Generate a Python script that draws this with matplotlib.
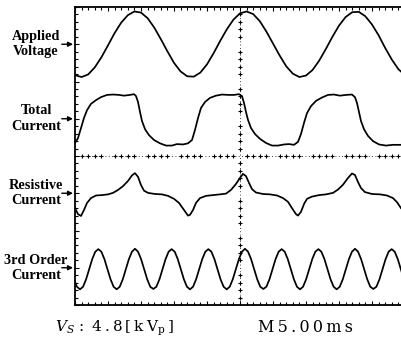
"""Scope capture: applied voltage and current components."""

import matplotlib.pyplot as plt
import numpy as np
from matplotlib.ticker import MultipleLocator

# time in ms (5 ms/div), trace values in divisions relative to the ground marker
volt_t = np.arange(0.0, 51.0, 1.0)
volt = [-0.83, -0.88, -0.81, -0.62, -0.35, -0.03, 0.30, 0.58, 0.78, 0.88,
        0.85, 0.70, 0.45, 0.14, -0.19, -0.50, -0.73, -0.86, -0.87, -0.76,
        -0.54, -0.24, 0.09, 0.40, 0.66, 0.83, 0.88, 0.81, 0.62, 0.34,
        0.02, -0.30, -0.59, -0.79, -0.88, -0.84, -0.69, -0.44, -0.13, 0.20,
        0.50, 0.73, 0.86, 0.87, 0.75, 0.53, 0.24, -0.10, -0.41, -0.67, -0.83]

total_t = [0.0, 0.45, 0.91, 1.36, 1.82, 2.42, 3.18, 3.94, 4.85, 5.76,
           6.67, 7.42, 8.33, 8.94, 9.24, 9.55, 9.85, 10.15, 10.61, 11.21,
           11.97, 12.88, 13.79, 14.70, 15.45, 16.36, 17.12, 17.73, 18.18, 18.64,
           19.09, 19.70, 20.45, 21.36, 22.27, 23.18, 24.09, 24.85, 25.30, 25.61,
           25.91, 26.21, 26.67, 27.27, 28.03, 28.94, 29.85, 30.76, 31.67, 32.42,
           33.18, 33.79, 34.24, 34.70, 35.15, 35.76, 36.52, 37.42, 38.33, 39.24,
           40.15, 41.06, 41.97, 42.42, 42.73, 43.03, 43.33, 43.79, 44.39, 45.15,
           46.06, 47.12, 48.18, 49.39]
total = [-0.65, -0.52, -0.25, 0.02, 0.23, 0.40, 0.50, 0.58, 0.64, 0.65,
         0.64, 0.62, 0.64, 0.66, 0.61, 0.45, 0.18, -0.06, -0.28, -0.44,
         -0.57, -0.66, -0.72, -0.72, -0.68, -0.69, -0.66, -0.57, -0.30, 0.02,
         0.29, 0.45, 0.56, 0.62, 0.65, 0.64, 0.64, 0.66, 0.61, 0.42,
         0.18, -0.03, -0.25, -0.41, -0.54, -0.65, -0.72, -0.72, -0.69, -0.68,
         -0.70, -0.62, -0.41, -0.11, 0.15, 0.34, 0.48, 0.57, 0.64, 0.65,
         0.62, 0.64, 0.65, 0.58, 0.42, 0.18, -0.06, -0.28, -0.46, -0.60,
         -0.69, -0.72, -0.70, -0.70]

resist_t = [0.0, 0.45, 0.91, 1.36, 1.82, 2.42, 3.18, 4.09, 5.0, 5.76,
            6.52, 7.27, 8.03, 8.64, 9.09, 9.55, 10.0, 10.45, 11.06, 12.12,
            13.18, 14.09, 15.0, 15.76, 16.52, 17.12, 17.42, 17.88, 18.33, 18.94,
            19.85, 20.91, 21.97, 22.88, 23.64, 24.39, 25.0, 25.45, 25.91, 26.36,
            26.82, 27.42, 28.48, 29.55, 30.61, 31.52, 32.27, 32.88, 33.48, 33.79,
            34.24, 34.70, 35.15, 35.91, 36.97, 38.03, 39.09, 39.85, 40.61, 41.36,
            41.97, 42.42, 42.88, 43.33, 43.94, 45.0, 46.21, 47.27, 48.18, 48.79,
            49.39]
resist = [-0.40, -0.56, -0.61, -0.45, -0.26, -0.13, -0.06, -0.05, -0.03, 0.01,
          0.09, 0.19, 0.33, 0.48, 0.54, 0.44, 0.22, 0.07, 0.01, -0.02,
          -0.03, -0.07, -0.15, -0.26, -0.45, -0.60, -0.58, -0.45, -0.26, -0.13,
          -0.07, -0.05, -0.03, -0.01, 0.09, 0.25, 0.41, 0.52, 0.46, 0.28,
          0.11, 0.02, -0.02, -0.03, -0.06, -0.13, -0.23, -0.40, -0.56, -0.60,
          -0.50, -0.29, -0.15, -0.09, -0.05, -0.03, 0.01, 0.10, 0.23, 0.41,
          0.53, 0.49, 0.30, 0.14, 0.03, -0.02, -0.03, -0.06, -0.13, -0.24,
          -0.40]

# 3rd order current, sampled every 0.463 ms from -0.17 ms
third_t0 = -0.17
third_dt = 0.463
third = [-0.31, -0.51,
         -0.58, -0.51, -0.31, -0.04, 0.23, 0.43, 0.50, 0.43, 0.23, -0.04, -0.31, -0.51,
         -0.58, -0.51, -0.31, -0.04, 0.23, 0.43, 0.51, 0.43, 0.23, -0.04, -0.31, -0.51,
         -0.57, -0.51, -0.31, -0.04, 0.23, 0.43, 0.50, 0.43, 0.23, -0.04, -0.31, -0.51,
         -0.58, -0.51, -0.31, -0.04, 0.23, 0.43, 0.50, 0.43, 0.23, -0.04, -0.31, -0.51,
         -0.58, -0.51, -0.31, -0.04, 0.23, 0.43, 0.51, 0.43, 0.23, -0.04, -0.31, -0.51,
         -0.57, -0.51, -0.31, -0.04, 0.23, 0.43, 0.50, 0.43, 0.23, -0.04, -0.31, -0.51,
         -0.58, -0.51, -0.31, -0.04, 0.23, 0.43, 0.50, 0.43, 0.23, -0.04, -0.31, -0.51,
         -0.58, -0.51, -0.31, -0.04, 0.23, 0.43, 0.51, 0.43, 0.23, -0.04, -0.31, -0.51,
         -0.57, -0.51, -0.31, -0.04, 0.23, 0.43, 0.50, 0.43, 0.23, -0.04, -0.31, -0.51]
third_t = third_t0 + third_dt * np.arange(len(third))

labels = ["Applied\nVoltage", "Total\nCurrent", "Resistive\nCurrent",
          "3rd Order\nCurrent"]
offsets = [7, 5, 3, 1]

W, H = 401, 348
fig = plt.figure(figsize=(W / 100, H / 100), dpi=100)
ax = fig.add_axes([75 / W, 1 - 305 / H, 330 / W, 298 / H])
ax.set_xlim(0, 50)
ax.set_ylim(0, 8)

for spine in ax.spines.values():
    spine.set_linewidth(1.3)

ax.xaxis.set_major_locator(MultipleLocator(5))
ax.xaxis.set_minor_locator(MultipleLocator(1))
ax.yaxis.set_major_locator(MultipleLocator(1))
ax.yaxis.set_minor_locator(MultipleLocator(0.2))
ax.tick_params(which="both", direction="in", top=True, right=True,
               labelbottom=False, labelleft=False, width=0.8)
ax.tick_params(which="major", length=3)
ax.tick_params(which="minor", length=2)

# centre graticule with minor crosses
ax.axvline(25, color="k", lw=0.6, ls=(0, (1, 3)))
ax.axhline(4, color="k", lw=0.6, ls=(0, (1, 3)))
gx = [x for x in range(1, 50) if x % 5]
gy = [y / 5 for y in range(1, 40) if y % 5]
ax.plot(gx, [4] * len(gx), "+", color="k", ms=3.5, mew=0.8)
ax.plot([25] * len(gy), gy, "+", color="k", ms=3.5, mew=0.8)

traces = [(volt_t, volt), (total_t, total), (resist_t, resist),
          (third_t, third)]
for (t, v), off, lab in zip(traces, offsets, labels):
    ax.plot(t, np.asarray(v) + off, color="k", lw=1.25)
    ax.annotate("", xy=(-0.006, off), xycoords=("axes fraction", "data"),
                xytext=(-0.04, off), textcoords=("axes fraction", "data"),
                arrowprops=dict(arrowstyle="-|>", color="k", lw=1.0,
                                mutation_scale=7, shrinkA=0, shrinkB=0))
    ax.text(-0.118, off, lab, transform=ax.get_yaxis_transform(),
            ha="center", va="center", family="Liberation Serif",
            weight="bold", fontsize=10.3, linespacing=1.25)

plt.rcParams["mathtext.fontset"] = "dejavuserif"
sp = "\u2009"
fig.text(55 / W, 1 - 328 / H,
         r"$V_S$ : " + sp + sp.join("4.8[k") + sp + r"V$_\mathrm{p}$" + sp + "]",
         family="DejaVu Serif", fontsize=11, ha="left", va="center")
fig.text(258 / W, 1 - 328 / H, sp.join("M5.00ms"), family="DejaVu Serif",
         fontsize=11.5, ha="left", va="center")

fig.savefig("out.png", dpi=100)
